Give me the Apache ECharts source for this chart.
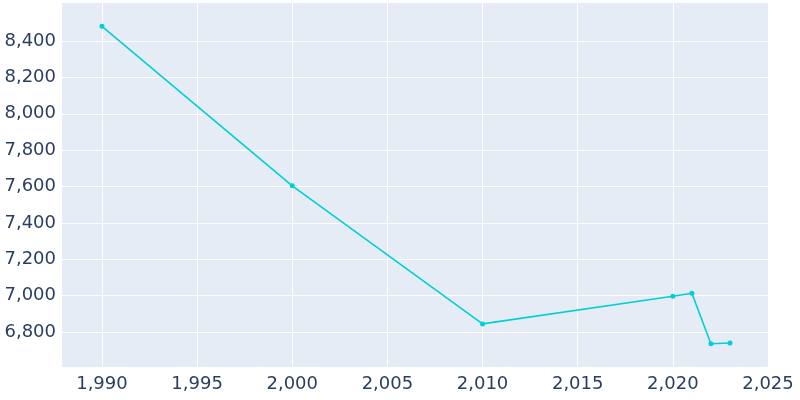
<!DOCTYPE html>
<html><head><meta charset="utf-8">
<script src="https://cdn.jsdelivr.net/npm/echarts@6/dist/echarts.min.js"></script>
<style>html,body{margin:0;padding:0;background:#fff}#c{width:800px;height:400px}</style>
</head><body><div id="c"></div>
<script>
const years = [1990, 2000, 2010, 2020, 2021, 2022, 2023];
const population = [8481, 7604, 6845, 6997, 7013, 6736, 6740];
const xTicks = [1990, 1995, 2000, 2005, 2010, 2015, 2020, 2025];
const yTicks = [6800, 7000, 7200, 7400, 7600, 7800, 8000, 8200, 8400];
const chart = echarts.init(document.getElementById('c'));
const txt = {color:'#2a3f5f', fontSize:18, fontFamily:'DejaVu Sans'};
chart.setOption({
  animation:false,
  grid:{left:62, right:32, top:3, bottom:33, backgroundColor:'#e5ecf6', show:true, borderWidth:0},
  xAxis:{type:'value', min:1987.9, max:2025,
    axisLine:{show:false}, axisTick:{show:false}, splitLine:{show:false},
    axisLabel:Object.assign({margin:8, customValues:xTicks, showMaxLabel:true}, txt)},
  yAxis:{type:'value', min:6608, max:8609,
    axisLine:{show:false}, axisTick:{show:false}, splitLine:{show:false},
    axisLabel:Object.assign({margin:6, customValues:yTicks}, txt)},
  series:[{type:'line', data:years.map((y,i)=>[y,population[i]]),
    lineStyle:{color:'#00cfd5', width:1.6}, itemStyle:{color:'#00cfd5'},
    symbol:'circle', symbolSize:5, z:3,
    markLine:{silent:true, symbol:'none', label:{show:false}, z:1,
      lineStyle:{color:'#fff', type:'solid', width:1},
      data:yTicks.map(v=>({yAxis:v})).concat(xTicks.map(v=>({xAxis:v})))}
  }]
});
</script></body></html>
